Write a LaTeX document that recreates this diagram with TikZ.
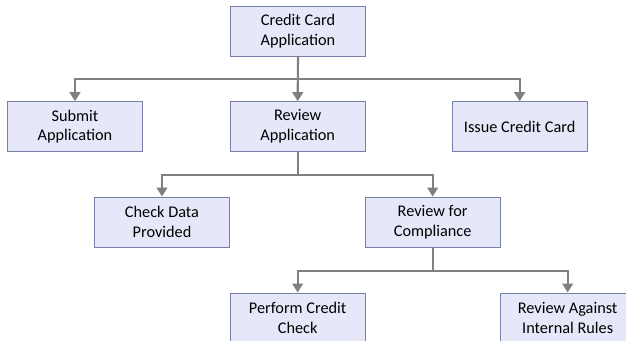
\documentclass[tikz,border=0pt]{standalone}
\usepackage{fontspec}
\setmainfont{Carlito}
\usetikzlibrary{arrows.meta}
\definecolor{boxfill}{RGB}{230,232,250}
\definecolor{boxline}{RGB}{120,128,170}
\definecolor{linkgray}{RGB}{128,128,128}
\begin{document}
\begin{tikzpicture}[main node/.style={rectangle,draw=boxline,fill=boxfill,line width=0.8pt,
                    minimum width=4.05cm,minimum height=1.5cm,align=center,
                    font=\fontsize{13.9}{17}\selectfont},
                    link/.style={draw=linkgray,line width=1.8pt,-{Triangle[length=0.27cm,width=0.32cm]}}]

  \useasboundingbox (0,0) rectangle (18.78,-10.23);

  \node[main node] (app) at (8.94, -0.93) {Credit Card\\Application};
  \node[main node] (submit) at (2.25, -3.80) {Submit\\Application};
  \node[main node] (review) at (8.93, -3.80) {Review\\Application};
  \node[main node] (issue) at (15.59, -3.80) {Issue Credit Card};
  \node[main node] (check) at (4.86, -6.66) {Check Data\\Provided};
  \node[main node] (comply) at (12.98, -6.66) {Review for\\Compliance};
  \node[main node] (credit) at (8.93, -9.54) {Perform Credit\\Check};
  \node[main node] (rules) at (17.03, -9.54) {Review Against\\Internal Rules};

  % bus levels
  \coordinate (bus1) at (0, -2.37);
  \coordinate (bus2) at (0, -5.25);
  \coordinate (bus3) at (0, -8.13);

  \draw[link] (app.south) -- (app.south |- bus1) -| (submit.north);
  \draw[link] (app.south) -- (review.north);
  \draw[link] (app.south) -- (app.south |- bus1) -| (issue.north);
  \draw[link] (review.south) -- (review.south |- bus2) -| (check.north);
  \draw[link] (review.south) -- (review.south |- bus2) -| (comply.north);
  \draw[link] (comply.south) -- (comply.south |- bus3) -| (credit.north);
  \draw[link] (comply.south) -- (comply.south |- bus3) -| (rules.north);

\end{tikzpicture}
\end{document}
